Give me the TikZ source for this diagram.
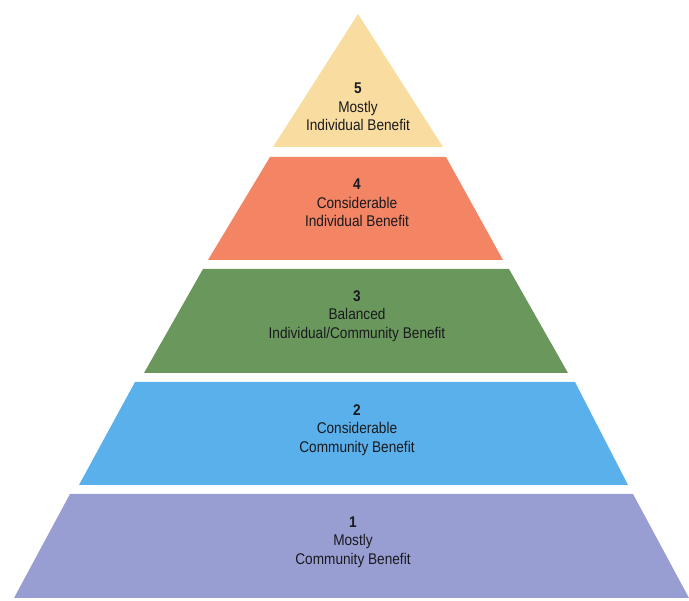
\documentclass[tikz,border=0pt]{standalone}
\usepackage{fontspec}
\setmainfont[FakeStretch=0.88]{Liberation Sans}
\definecolor{lyellow}{RGB}{249,221,160}
\definecolor{lorange}{RGB}{243,132,100}
\definecolor{lgreen}{RGB}{106,152,92}
\definecolor{lblue}{RGB}{90,176,234}
\definecolor{lpurple}{RGB}{153,158,210}
\definecolor{ltext}{RGB}{25,25,30}
\begin{document}
\begin{tikzpicture}[x=1pt,y=-1pt,
  lbl/.style={align=center,font=\fontsize{15.5}{18.5}\selectfont,text=ltext,inner sep=0pt}]
\useasboundingbox (0,0) rectangle (689,601);
% layer 5
\fill[lyellow] (358,14) -- (443,147) -- (273,147) -- cycle;
% layer 4
\fill[lorange] (270,157) -- (446,157) -- (503,260) -- (208,260) -- cycle;
% layer 3
\fill[lgreen] (203,269) -- (509,269) -- (568,373) -- (144,373) -- cycle;
% layer 2
\fill[lblue] (135,382) -- (575,382) -- (628,485) -- (79,485) -- cycle;
% layer 1
\fill[lpurple] (70,494) -- (633,494) -- (689,598) -- (14,598) -- cycle;
\node[lbl] (t5) at (358,107) {\textbf{5}\\Mostly\\Individual Benefit};
\node[lbl] (t4) at (357,203) {\textbf{4}\\Considerable\\Individual Benefit};
\node[lbl] (t3) at (357,316) {\textbf{3}\\Balanced\\Individual/Community Benefit};
\node[lbl] (t2) at (357,430) {\textbf{2}\\Considerable\\Community Benefit};
\node[lbl] (t1) at (353,542) {\textbf{1}\\Mostly\\Community Benefit};
\end{tikzpicture}
\end{document}
